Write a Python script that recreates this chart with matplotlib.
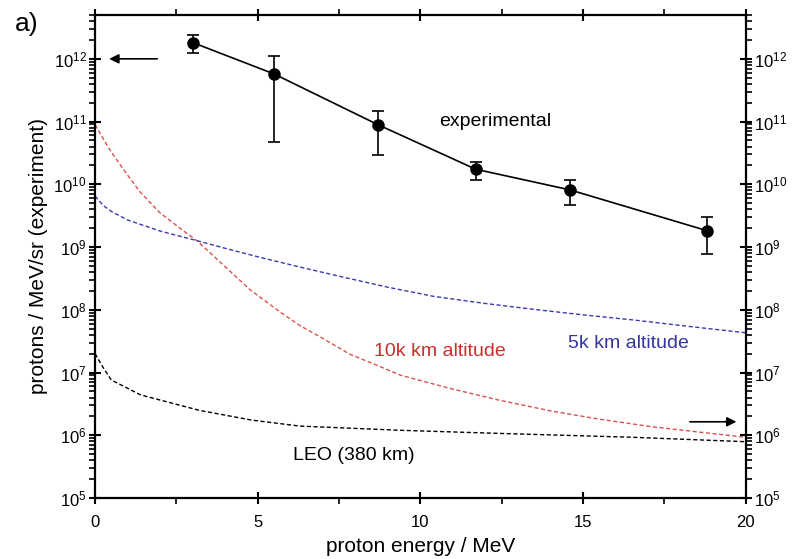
import numpy as np
import matplotlib
matplotlib.use("Agg")
import matplotlib.pyplot as plt
from matplotlib.ticker import FixedLocator, MultipleLocator, NullFormatter

plt.rcParams['font.family'] = ['Liberation Sans', 'DejaVu Sans']
plt.rcParams['mathtext.fontset'] = 'custom'
plt.rcParams['mathtext.rm'] = 'Liberation Sans'
plt.rcParams['mathtext.it'] = 'Liberation Sans:italic'

# measured spectrum (experiment)
exp_energy = [3.0, 5.5, 8.7, 11.7, 14.6, 18.8]
exp_flux = [1.82e12, 5.75e11, 8.9e10, 1.74e10, 8.15e9, 1.83e9]
exp_err_hi = [2.4e12, 1.12e12, 1.48e11, 2.24e10, 1.17e10, 2.96e9]
exp_err_lo = [1.26e12, 4.7e10, 2.95e10, 1.17e10, 4.6e9, 7.7e8]

# modelled trapped-proton spectra
alt10k_energy = [0.0, 0.46, 0.92, 1.38, 2.0, 2.61, 3.14, 3.84, 4.76, 5.69, 6.3, 7.0, 7.84, 8.6, 9.38,
                 10.9, 12.45, 14.0, 15.52, 17.06, 18.6, 20.0]
alt10k_flux = [8.9e10, 3.5e10, 1.6e10, 7.6e9, 3.5e9, 2.0e9, 1.25e9, 5.8e8, 2.1e8, 9.2e7, 5.6e7, 3.5e7, 1.95e7,
               1.35e7, 9.1e6, 5.6e6, 3.6e6, 2.45e6, 1.8e6, 1.38e6, 1.12e6, 9.3e5]

alt5k_energy = [0.0, 0.25, 0.5, 1.0, 2.0, 3.14, 4.0, 5.0, 6.3, 7.5, 9.0, 10.4, 12.0, 13.46, 15.0, 16.53, 18.3, 20.0]
alt5k_flux = [6.5e9, 4.6e9, 3.7e9, 2.7e9, 1.8e9, 1.26e9, 9.55e8, 7.0e8, 4.8e8, 3.43e8, 2.29e8, 1.64e8, 1.26e8,
              1.02e8, 8.3e7, 6.9e7, 5.4e7, 4.3e7]

leo_energy = [0.0, 0.25, 0.5, 1.4, 3.2, 4.8, 6.3, 9.4, 12.45, 16.5, 20.0]
leo_flux = [2.0e7, 1.2e7, 7.6e6, 4.4e6, 2.5e6, 1.75e6, 1.4e6, 1.2e6, 1.07e6, 9.3e5, 7.9e5]

decades = [1e5, 1e6, 1e7, 1e8, 1e9, 1e10, 1e11, 1e12]

fig = plt.figure(figsize=(8.04, 5.59), dpi=100)
ax = fig.add_axes([0.1182, 0.1091, 0.8093, 0.8641])

dash = (0, (3, 1.8))
ax.plot(alt10k_energy, alt10k_flux, color='#d9534f', lw=1.0, ls=dash)
ax.plot(alt5k_energy, alt5k_flux, color='#3b3bb0', lw=1.0, ls=dash)
ax.plot(leo_energy, leo_flux, color='black', lw=1.0, ls=dash)

yerr = [np.array(exp_flux) - np.array(exp_err_lo), np.array(exp_err_hi) - np.array(exp_flux)]
ax.errorbar(exp_energy, exp_flux, yerr=yerr, fmt='o-', color='black', ms=8,
            lw=1.2, elinewidth=1.2, capsize=4.5, capthick=1.2)

ax.set_yscale('log')
ax.set_xlim(0, 20)
ax.set_ylim(1e5, 5.0e12)

ax.xaxis.set_major_locator(MultipleLocator(5))
ax.xaxis.set_minor_locator(MultipleLocator(2.5))
minor_y = [d * k for d in decades for k in range(2, 10) if d * k <= 5.0e12]
ax.yaxis.set_major_locator(FixedLocator(decades))
ax.yaxis.set_minor_locator(FixedLocator(minor_y))
ax.yaxis.set_minor_formatter(NullFormatter())

for s in ax.spines.values():
    s.set_linewidth(1.6)

ax.tick_params(axis='both', which='major', direction='inout', length=8, width=1.5,
               labelsize=12, right=True, labelright=True)
ax.tick_params(axis='both', which='minor', direction='out', length=4, width=1.2, right=True)
ax.tick_params(axis='x', which='both', top=True)
ax.tick_params(axis='x', which='major', pad=8)
ax.tick_params(axis='y', which='major', pad=2)

ax.set_xlabel('proton energy / MeV', fontsize=15, labelpad=5)
ax.set_ylabel('protons / MeV/sr (experiment)', fontsize=15, labelpad=4)

ax.text(12.3, 1.0e11, 'experimental', fontsize=14, ha='center', va='center')
ax.text(10.6, 2.2e7, '10k km altitude', fontsize=14, ha='center', va='center', color='#c8302c')
ax.text(16.4, 2.9e7, '5k km altitude', fontsize=14, ha='center', va='center', color='#3535a0')
ax.text(7.95, 4.8e5, 'LEO (380 km)', fontsize=14, ha='center', va='center')

# arrows pointing to the relevant axis
ax.annotate('', xy=(0.35, 1e12), xytext=(2.0, 1e12),
            arrowprops=dict(arrowstyle='-|>', color='black', lw=1.2, mutation_scale=14))
ax.annotate('', xy=(19.8, 1.64e6), xytext=(18.2, 1.64e6),
            arrowprops=dict(arrowstyle='-|>', color='black', lw=1.2, mutation_scale=14))

fig.text(0.019, 0.957, 'a)', fontsize=19, ha='left', va='center')

fig.savefig('out.png', dpi=100)
